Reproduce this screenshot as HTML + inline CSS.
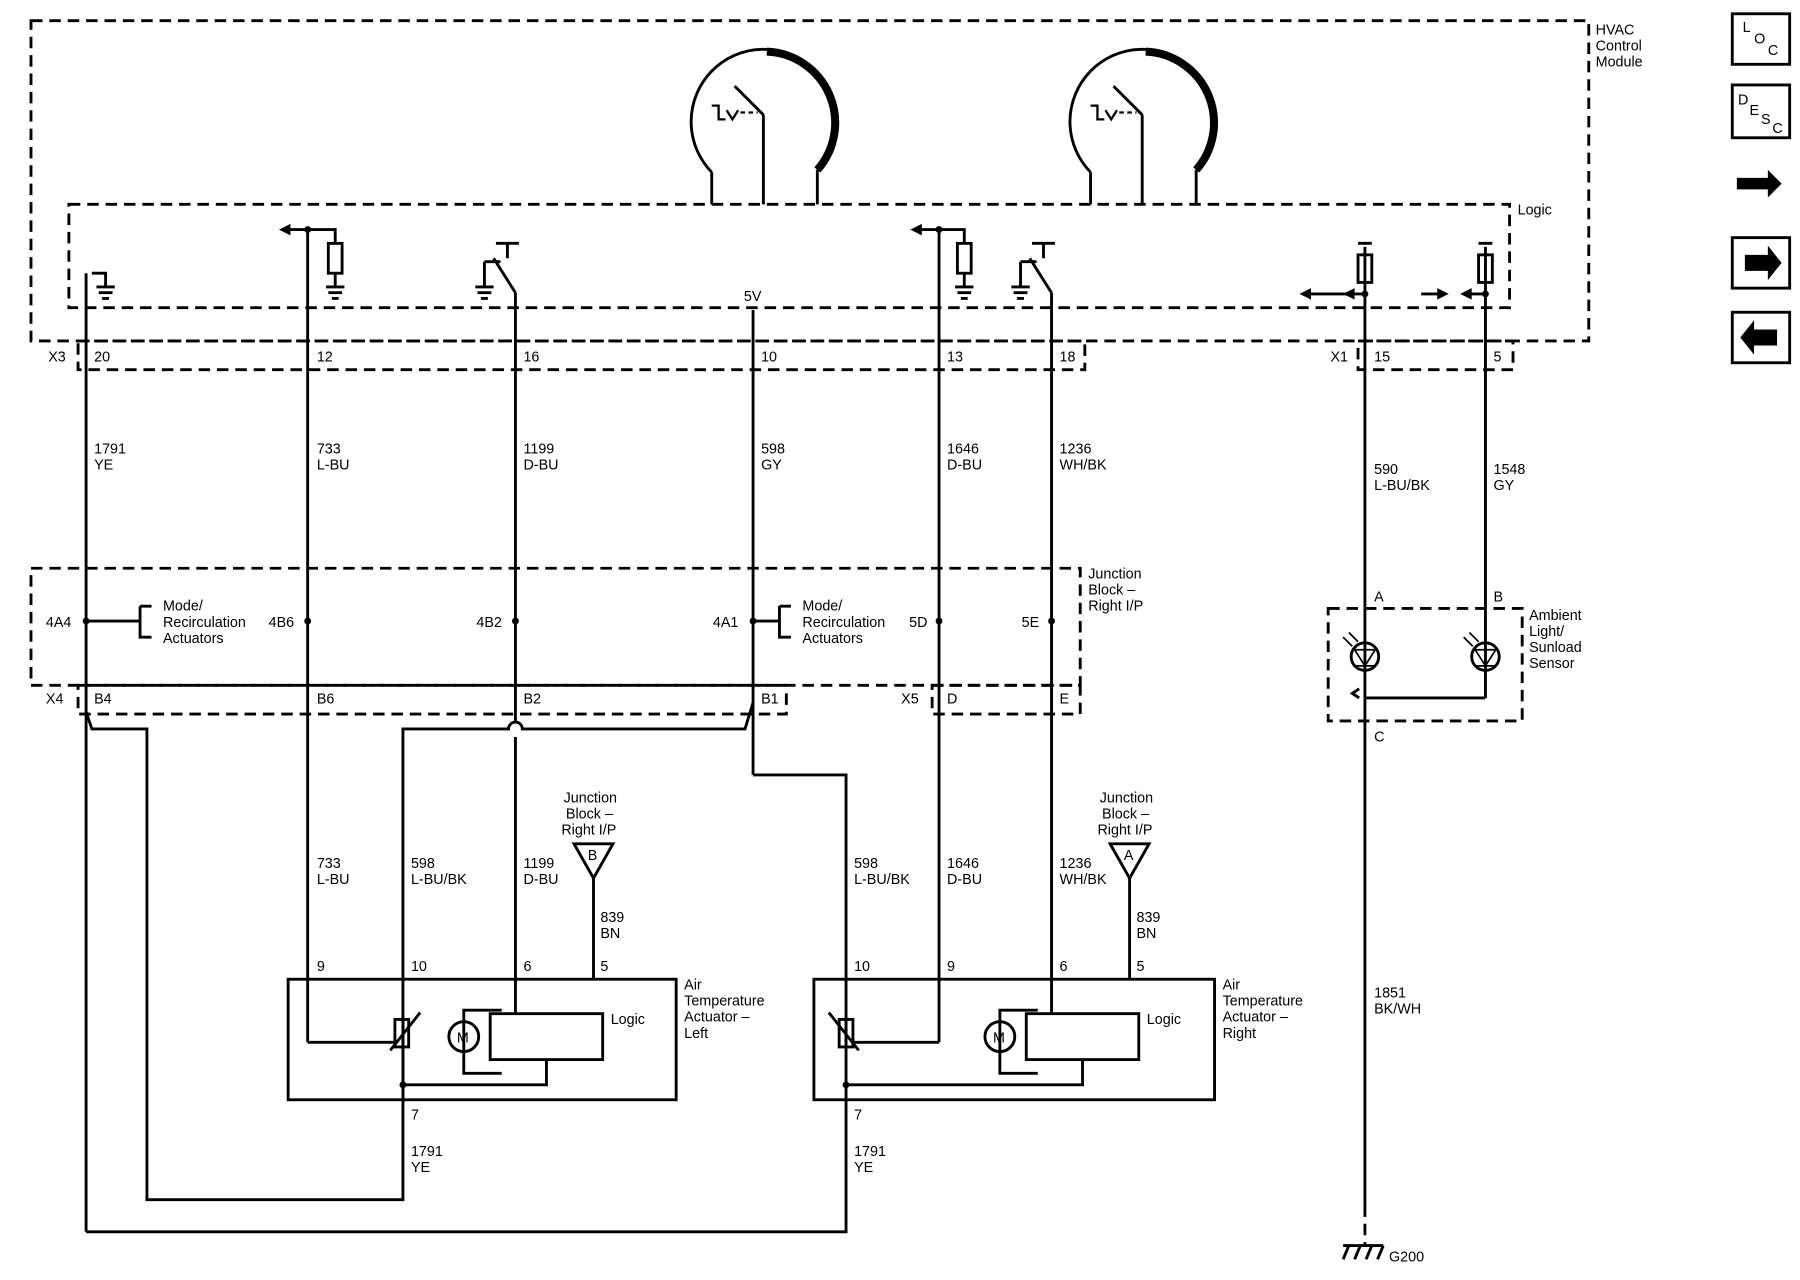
<!DOCTYPE html>
<html><head><meta charset="utf-8"><style>
html,body{margin:0;padding:0;background:#fff;}
svg{display:block;}
text{font-family:"Liberation Sans",sans-serif;font-size:12.5px;fill:#000;}
</style></head><body>
<svg width="1800" height="1280" viewBox="0 0 1568 1115" preserveAspectRatio="none" xmlns="http://www.w3.org/2000/svg">
<rect width="1568" height="1115" fill="#fff"/>
<g fill="none" stroke="#000" stroke-width="2.5">
<g stroke-dasharray="10,6">
<rect x="27" y="18" width="1357" height="279"/>
<rect x="60" y="178" width="1255" height="90"/>
<rect x="68" y="297" width="877" height="25"/>
<rect x="1183" y="297" width="135" height="25"/>
<rect x="27" y="495" width="914" height="102"/>
<rect x="68" y="597" width="617" height="25"/>
<rect x="812" y="597" width="129" height="25"/>
<rect x="1157" y="530" width="169" height="98"/>
<line x1="1189" y1="1050" x2="1189" y2="1085"/>
</g>
<!-- gauges -->
<path d="M620,150 A63,63 0 1 1 712,148"/>
<path d="M668,45 A62,62 0 0 1 712,148" stroke-width="7"/>
<path d="M950,150 A63,63 0 1 1 1042,148"/>
<path d="M998,45 A62,62 0 0 1 1042,148" stroke-width="7"/>
<path d="M620,150 L620,178 M712,148 L712,178 M665,100 L665,178 M640,75 L665,100"/>
<path d="M950,150 L950,178 M1042,148 L1042,178 M995,100 L995,178 M970,75 L995,100"/>
<path d="M620,92 L626,92 L626,104 L632,104 M633,96 L638,104 L643,96" stroke-width="2"/>
<path d="M950,92 L956,92 L956,104 L962,104 M963,96 L968,104 L973,96" stroke-width="2"/>
<path d="M645,98 L660,98 M975,98 L990,98" stroke-dasharray="4,3" stroke-width="2"/>
<!-- ground symbols in logic -->
<path d="M80,238 L92,238 L92,250 M84,250 L100,250 M86,255 L98,255 M89,260 L95,260"/>
<path d="M292,238 L292,250 M284,250 L300,250 M286,255 L298,255 M289,260 L295,260"/>
<path d="M840,238 L840,250 M832,250 L848,250 M834,255 L846,255 M837,260 L843,260"/>
<path d="M422,228 L422,250 M414,250 L430,250 M416,255 L428,255 M419,260 L425,260"/>
<path d="M889,228 L889,250 M881,250 L897,250 M883,255 L895,255 M886,260 L892,260"/>
<!-- wires -->
<line x1="75" y1="238" x2="75" y2="1073"/>
<line x1="268" y1="200" x2="268" y2="908"/>
<path d="M268,200 L252,200 M268,200 L292,200 L292,212"/>
<rect x="286" y="212" width="12" height="26"/>
<line x1="449" y1="255" x2="449" y2="628"/>
<path d="M449,642 L449,883"/>
<path d="M449,255 L430,225 M422,228 L436,228 M436,228 L436,228 M432,212 L452,212 M442,212 L442,225"/>
<line x1="656" y1="270" x2="656" y2="675"/>
<line x1="818" y1="200" x2="818" y2="908"/>
<path d="M818,200 L802,200 M818,200 L840,200 L840,212"/>
<rect x="834" y="212" width="12" height="26"/>
<line x1="916" y1="255" x2="916" y2="883"/>
<path d="M916,255 L897,225 M889,228 L903,228 M899,212 L919,212 M909,212 L909,225"/>
<line x1="1189" y1="215" x2="1189" y2="1050"/>
<rect x="1183" y="222" width="12" height="24"/>
<path d="M1189,256 L1140,256 M1183,212 L1195,212"/>
<line x1="1294" y1="215" x2="1294" y2="608"/>
<rect x="1288" y="222" width="12" height="24"/>
<path d="M1294,256 L1280,256 M1238,256 L1255,256 M1288,212 L1300,212"/>
<line x1="1189" y1="608" x2="1294" y2="608"/>
<!-- bottom routing -->
<path d="M75,620 L80,635 L128,635 L128,1045 L351,1045 L351,635 L443,635 A6,6 0 0 1 455,635 L649,635 L656,612"/>
<path d="M656,675 L737,675 L737,908"/>
<path d="M75,1073 L737,1073 L737,945"/>
<path d="M351,945 L351,960"/>
<!-- actuator boxes -->
<rect x="251" y="853" width="338" height="105"/>
<rect x="709" y="853" width="349" height="105"/>
<rect x="427" y="883" width="98" height="40"/>
<rect x="894" y="883" width="98" height="40"/>
<circle cx="404" cy="903" r="13"/><circle cx="871" cy="903" r="13"/>
<path d="M437,880 L404,880 L404,935 L437,935 M476,923 L476,945 L351,945"/>
<path d="M904,880 L871,880 L871,935 L904,935 M943,923 L943,945 L737,945"/>
<rect x="344" y="888" width="12" height="24"/>
<path d="M268,908 L345,908 M340,915 L366,882 M351,888 L351,945"/>
<rect x="731" y="888" width="12" height="24"/>
<path d="M818,908 L742,908 M748,915 L722,882 M737,888 L737,945"/>
<path d="M517,765 L517,853 M984,765 L984,853"/>
<path d="M500,735 L534,735 L517,765 Z M967,735 L1001,735 L984,765 Z"/>
<!-- junction stubs -->
<path d="M75,541 L122,541 M122,528 L122,555 L132,555 M122,528 L132,528"/>
<path d="M656,541 L679,541 M679,528 L679,555 L689,555 M679,528 L689,528"/>
<!-- sensors -->
<circle cx="1189" cy="572" r="12"/><circle cx="1294" cy="572" r="12"/>
<path d="M1180,566 L1198,566 L1189,580 Z M1180,580 L1198,580 M1285,566 L1303,566 L1294,580 Z M1285,580 L1303,580" stroke-width="1.5"/>
<path d="M1170,555 L1178,563 M1175,551 L1183,559 M1275,555 L1283,563 M1280,551 L1288,559" stroke-width="1.5"/>
<path d="M1184,600 L1178,604 L1184,608"/>
<!-- ground G200 -->
<path d="M1170,1085 L1205,1085 M1175,1085 L1170,1097 M1185,1085 L1180,1097 M1195,1085 L1190,1097 M1205,1085 L1200,1097"/>
<!-- right icons -->
<rect x="1509" y="12" width="50" height="44"/>
<rect x="1509" y="74" width="50" height="46"/>
<rect x="1509" y="207" width="50" height="44"/>
<rect x="1509" y="272" width="50" height="44"/>
</g>
<g fill="#000">
<circle cx="75" cy="541" r="3"/><circle cx="268" cy="541" r="3"/><circle cx="449" cy="541" r="3"/>
<circle cx="656" cy="541" r="3"/><circle cx="818" cy="541" r="3"/><circle cx="916" cy="541" r="3"/>
<circle cx="1189" cy="256" r="3"/><circle cx="1294" cy="256" r="3"/>
<circle cx="351" cy="945" r="3"/><circle cx="737" cy="945" r="3"/>
<circle cx="268" cy="200" r="3"/><circle cx="818" cy="200" r="3"/>
<path d="M243,200 L253,195 L253,205 Z M793,200 L803,195 L803,205 Z"/>
<path d="M1132,256 L1142,251 L1142,261 Z M1170,256 L1180,251 L1180,261 Z"/>
<path d="M1262,256 L1252,251 L1252,261 Z M1272,256 L1282,251 L1282,261 Z"/>
<path d="M1520,222 L1540,222 L1540,214 L1552,229 L1540,244 L1540,236 L1520,236 Z"/>
<path d="M1548,287 L1528,287 L1528,279 L1516,294 L1528,309 L1528,301 L1548,301 Z"/>
<path d="M1513,155 L1540,155 L1540,148 L1552,160 L1540,172 L1540,165 L1513,165 Z"/>
</g>
<text x="1390" y="30">HVAC</text><text x="1390" y="44">Control</text><text x="1390" y="58">Module</text>
<text x="1322" y="187">Logic</text>
<text x="648" y="262">5V</text>
<text x="42" y="315">X3</text><text x="82" y="315">20</text><text x="276" y="315">12</text><text x="456" y="315">16</text>
<text x="663" y="315">10</text><text x="825" y="315">13</text><text x="923" y="315">18</text>
<text x="1159" y="315">X1</text><text x="1197" y="315">15</text><text x="1301" y="315">5</text>
<text x="82" y="395">1791</text><text x="82" y="409">YE</text>
<text x="276" y="395">733</text><text x="276" y="409">L-BU</text>
<text x="456" y="395">1199</text><text x="456" y="409">D-BU</text>
<text x="663" y="395">598</text><text x="663" y="409">GY</text>
<text x="825" y="395">1646</text><text x="825" y="409">D-BU</text>
<text x="923" y="395">1236</text><text x="923" y="409">WH/BK</text>
<text x="1197" y="413">590</text><text x="1197" y="427">L-BU/BK</text>
<text x="1301" y="413">1548</text><text x="1301" y="427">GY</text>
<text x="948" y="504">Junction</text><text x="948" y="518">Block –</text><text x="948" y="532">Right I/P</text>
<text x="40" y="546">4A4</text><text x="234" y="546">4B6</text><text x="415" y="546">4B2</text><text x="621" y="546">4A1</text>
<text x="792" y="546">5D</text><text x="890" y="546">5E</text>
<text x="142" y="532">Mode/</text><text x="142" y="546">Recirculation</text><text x="142" y="560">Actuators</text>
<text x="699" y="532">Mode/</text><text x="699" y="546">Recirculation</text><text x="699" y="560">Actuators</text>
<text x="1197" y="524">A</text><text x="1301" y="524">B</text><text x="1197" y="646">C</text>
<text x="1332" y="540">Ambient</text><text x="1332" y="554">Light/</text><text x="1332" y="568">Sunload</text><text x="1332" y="582">Sensor</text>
<text x="40" y="613">X4</text><text x="82" y="613">B4</text><text x="276" y="613">B6</text><text x="456" y="613">B2</text><text x="663" y="613">B1</text>
<text x="785" y="613">X5</text><text x="825" y="613">D</text><text x="923" y="613">E</text>
<text x="491" y="699">Junction</text><text x="493" y="713">Block –</text><text x="489" y="727">Right I/P</text>
<text x="958" y="699">Junction</text><text x="960" y="713">Block –</text><text x="956" y="727">Right I/P</text>
<text x="512" y="749" font-size="11">B</text><text x="979" y="749" font-size="11">A</text>
<text x="276" y="756">733</text><text x="276" y="770">L-BU</text>
<text x="358" y="756">598</text><text x="358" y="770">L-BU/BK</text>
<text x="456" y="756">1199</text><text x="456" y="770">D-BU</text>
<text x="523" y="803">839</text><text x="523" y="817">BN</text>
<text x="744" y="756">598</text><text x="744" y="770">L-BU/BK</text>
<text x="825" y="756">1646</text><text x="825" y="770">D-BU</text>
<text x="923" y="756">1236</text><text x="923" y="770">WH/BK</text>
<text x="990" y="803">839</text><text x="990" y="817">BN</text>
<text x="276" y="846">9</text><text x="358" y="846">10</text><text x="456" y="846">6</text><text x="523" y="846">5</text>
<text x="744" y="846">10</text><text x="825" y="846">9</text><text x="923" y="846">6</text><text x="990" y="846">5</text>
<text x="532" y="892">Logic</text><text x="999" y="892">Logic</text>
<text x="398" y="908" font-size="11">M</text><text x="865" y="908" font-size="11">M</text>
<text x="596" y="862">Air</text><text x="596" y="876">Temperature</text><text x="596" y="890">Actuator –</text><text x="596" y="904">Left</text>
<text x="1065" y="862">Air</text><text x="1065" y="876">Temperature</text><text x="1065" y="890">Actuator –</text><text x="1065" y="904">Right</text>
<text x="1197" y="869">1851</text><text x="1197" y="883">BK/WH</text>
<text x="358" y="975">7</text><text x="744" y="975">7</text>
<text x="358" y="1007">1791</text><text x="358" y="1021">YE</text>
<text x="744" y="1007">1791</text><text x="744" y="1021">YE</text>
<text x="1210" y="1099">G200</text>
<text x="1518" y="28" font-size="11">L</text><text x="1528" y="38" font-size="11">O</text><text x="1540" y="48" font-size="11">C</text>
<text x="1514" y="91" font-size="11">D</text><text x="1524" y="100" font-size="11">E</text><text x="1534" y="108" font-size="11">S</text><text x="1544" y="116" font-size="11">C</text>
</svg>
</body></html>
